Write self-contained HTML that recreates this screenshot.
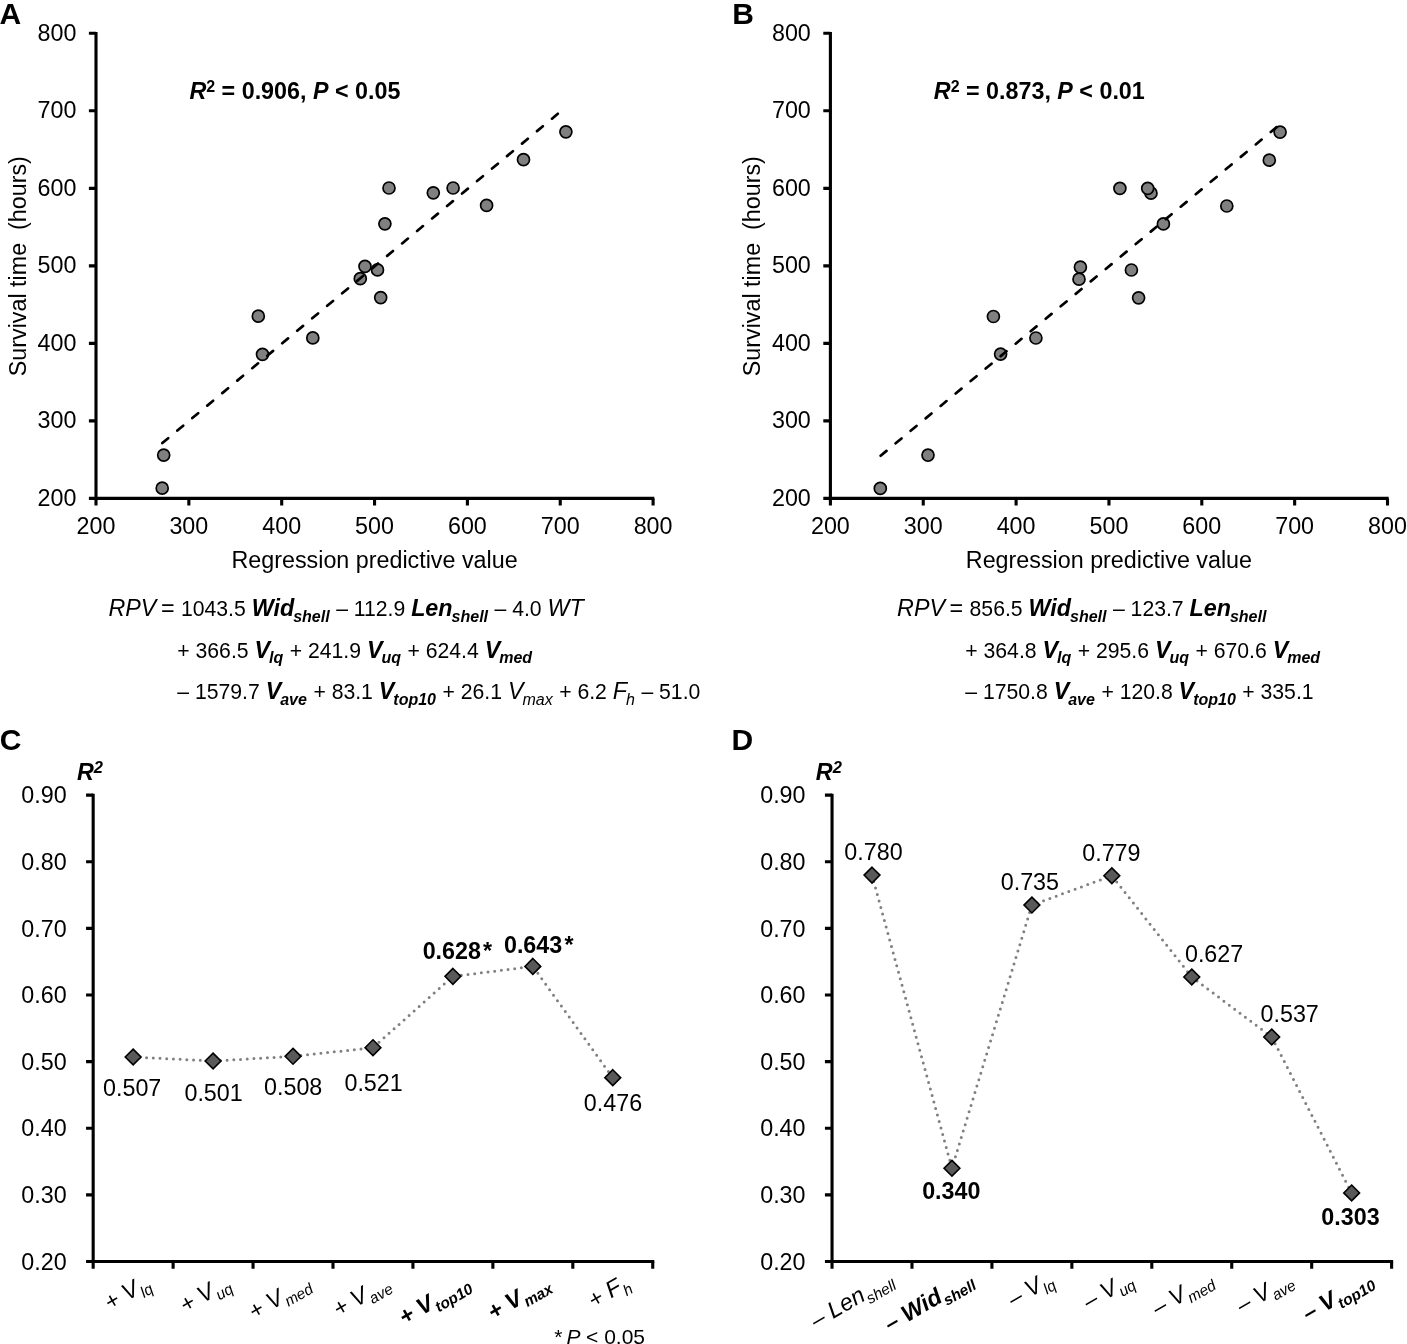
<!DOCTYPE html>
<html><head><meta charset="utf-8"><title>Figure</title>
<style>html,body{margin:0;padding:0;background:#fff;}body{width:1407px;height:1344px;overflow:hidden;}svg{display:block;}text{font-family:'Liberation Sans', Arial, sans-serif;}</style>
</head><body>
<svg width="1407" height="1344" viewBox="0 0 1407 1344" font-family="'Liberation Sans', Arial, sans-serif" font-size="23.3" fill="#000">
<path d="M96.00,32.10V498.40H654.30" fill="none" stroke="#000" stroke-width="3.1"/>
<path d="M88.90,498.40H96.00M96.00,498.40V505.60M88.90,420.88H96.00M188.85,498.40V505.60M88.90,343.37H96.00M281.70,498.40V505.60M88.90,265.85H96.00M374.55,498.40V505.60M88.90,188.33H96.00M467.40,498.40V505.60M88.90,110.82H96.00M560.25,498.40V505.60M88.90,33.30H96.00M653.10,498.40V505.60" stroke="#000" stroke-width="3.1"/>
<text x="76.40" y="505.90" text-anchor="end">200</text>
<text x="96.00" y="533.80" text-anchor="middle">200</text>
<text x="76.40" y="428.38" text-anchor="end">300</text>
<text x="188.85" y="533.80" text-anchor="middle">300</text>
<text x="76.40" y="350.87" text-anchor="end">400</text>
<text x="281.70" y="533.80" text-anchor="middle">400</text>
<text x="76.40" y="273.35" text-anchor="end">500</text>
<text x="374.55" y="533.80" text-anchor="middle">500</text>
<text x="76.40" y="195.83" text-anchor="end">600</text>
<text x="467.40" y="533.80" text-anchor="middle">600</text>
<text x="76.40" y="118.32" text-anchor="end">700</text>
<text x="560.25" y="533.80" text-anchor="middle">700</text>
<text x="76.40" y="40.80" text-anchor="end">800</text>
<text x="653.10" y="533.80" text-anchor="middle">800</text>
<circle cx="162.20" cy="488.20" r="6.0" fill="#808080" stroke="#000" stroke-width="1.7"/>
<circle cx="163.70" cy="455.10" r="6.0" fill="#808080" stroke="#000" stroke-width="1.7"/>
<circle cx="258.30" cy="316.20" r="6.0" fill="#808080" stroke="#000" stroke-width="1.7"/>
<circle cx="262.50" cy="354.30" r="6.0" fill="#808080" stroke="#000" stroke-width="1.7"/>
<circle cx="312.80" cy="337.90" r="6.0" fill="#808080" stroke="#000" stroke-width="1.7"/>
<circle cx="360.30" cy="278.70" r="6.0" fill="#808080" stroke="#000" stroke-width="1.7"/>
<circle cx="365.00" cy="266.40" r="6.0" fill="#808080" stroke="#000" stroke-width="1.7"/>
<circle cx="377.50" cy="269.90" r="6.0" fill="#808080" stroke="#000" stroke-width="1.7"/>
<circle cx="380.70" cy="297.60" r="6.0" fill="#808080" stroke="#000" stroke-width="1.7"/>
<circle cx="384.90" cy="223.80" r="6.0" fill="#808080" stroke="#000" stroke-width="1.7"/>
<circle cx="389.00" cy="188.00" r="6.0" fill="#808080" stroke="#000" stroke-width="1.7"/>
<circle cx="433.30" cy="192.80" r="6.0" fill="#808080" stroke="#000" stroke-width="1.7"/>
<circle cx="453.10" cy="188.00" r="6.0" fill="#808080" stroke="#000" stroke-width="1.7"/>
<circle cx="486.60" cy="205.40" r="6.0" fill="#808080" stroke="#000" stroke-width="1.7"/>
<circle cx="523.50" cy="159.70" r="6.0" fill="#808080" stroke="#000" stroke-width="1.7"/>
<circle cx="565.90" cy="131.80" r="6.0" fill="#808080" stroke="#000" stroke-width="1.7"/>
<line x1="161.30" y1="443.90" x2="559.40" y2="112.50" stroke="#000" stroke-width="2.7" stroke-linecap="round" stroke-dasharray="7.6 11.9" stroke-dashoffset="-1.35"/>
<text x="374.55" y="567.5" text-anchor="middle">Regression predictive value</text>
<text transform="translate(25.60,266.2) rotate(-90)" text-anchor="middle" xml:space="preserve">Survival time  (hours)</text>
<text x="189.40" y="98.60" font-weight="bold" xml:space="preserve"><tspan font-style="italic">R</tspan><tspan font-size="16" dy="-6.8">2</tspan><tspan dy="6.8"> = 0.906, </tspan><tspan font-style="italic">P</tspan> &lt; 0.05</text>
<path d="M830.40,32.10V498.40H1388.70" fill="none" stroke="#000" stroke-width="3.1"/>
<path d="M823.30,498.40H830.40M830.40,498.40V505.60M823.30,420.88H830.40M923.25,498.40V505.60M823.30,343.37H830.40M1016.10,498.40V505.60M823.30,265.85H830.40M1108.95,498.40V505.60M823.30,188.33H830.40M1201.80,498.40V505.60M823.30,110.82H830.40M1294.65,498.40V505.60M823.30,33.30H830.40M1387.50,498.40V505.60" stroke="#000" stroke-width="3.1"/>
<text x="810.80" y="505.90" text-anchor="end">200</text>
<text x="830.40" y="533.80" text-anchor="middle">200</text>
<text x="810.80" y="428.38" text-anchor="end">300</text>
<text x="923.25" y="533.80" text-anchor="middle">300</text>
<text x="810.80" y="350.87" text-anchor="end">400</text>
<text x="1016.10" y="533.80" text-anchor="middle">400</text>
<text x="810.80" y="273.35" text-anchor="end">500</text>
<text x="1108.95" y="533.80" text-anchor="middle">500</text>
<text x="810.80" y="195.83" text-anchor="end">600</text>
<text x="1201.80" y="533.80" text-anchor="middle">600</text>
<text x="810.80" y="118.32" text-anchor="end">700</text>
<text x="1294.65" y="533.80" text-anchor="middle">700</text>
<text x="810.80" y="40.80" text-anchor="end">800</text>
<text x="1387.50" y="533.80" text-anchor="middle">800</text>
<circle cx="880.30" cy="488.40" r="6.0" fill="#808080" stroke="#000" stroke-width="1.7"/>
<circle cx="928.00" cy="455.10" r="6.0" fill="#808080" stroke="#000" stroke-width="1.7"/>
<circle cx="993.40" cy="316.50" r="6.0" fill="#808080" stroke="#000" stroke-width="1.7"/>
<circle cx="1000.60" cy="354.10" r="6.0" fill="#808080" stroke="#000" stroke-width="1.7"/>
<circle cx="1035.90" cy="338.00" r="6.0" fill="#808080" stroke="#000" stroke-width="1.7"/>
<circle cx="1080.40" cy="267.10" r="6.0" fill="#808080" stroke="#000" stroke-width="1.7"/>
<circle cx="1079.00" cy="279.20" r="6.0" fill="#808080" stroke="#000" stroke-width="1.7"/>
<circle cx="1119.90" cy="188.30" r="6.0" fill="#808080" stroke="#000" stroke-width="1.7"/>
<circle cx="1131.40" cy="270.00" r="6.0" fill="#808080" stroke="#000" stroke-width="1.7"/>
<circle cx="1138.60" cy="297.80" r="6.0" fill="#808080" stroke="#000" stroke-width="1.7"/>
<circle cx="1151.00" cy="193.20" r="6.0" fill="#808080" stroke="#000" stroke-width="1.7"/>
<circle cx="1147.70" cy="188.30" r="6.0" fill="#808080" stroke="#000" stroke-width="1.7"/>
<circle cx="1163.40" cy="223.90" r="6.0" fill="#808080" stroke="#000" stroke-width="1.7"/>
<circle cx="1226.80" cy="206.00" r="6.0" fill="#808080" stroke="#000" stroke-width="1.7"/>
<circle cx="1269.30" cy="160.20" r="6.0" fill="#808080" stroke="#000" stroke-width="1.7"/>
<circle cx="1280.10" cy="132.10" r="6.0" fill="#808080" stroke="#000" stroke-width="1.7"/>
<line x1="879.60" y1="456.60" x2="1276.80" y2="127.00" stroke="#000" stroke-width="2.7" stroke-linecap="round" stroke-dasharray="7.6 11.9" stroke-dashoffset="-1.35"/>
<text x="1108.95" y="567.5" text-anchor="middle">Regression predictive value</text>
<text transform="translate(760.00,266.2) rotate(-90)" text-anchor="middle" xml:space="preserve">Survival time  (hours)</text>
<text x="933.80" y="98.60" font-weight="bold" xml:space="preserve"><tspan font-style="italic">R</tspan><tspan font-size="16" dy="-6.8">2</tspan><tspan dy="6.8"> = 0.873, </tspan><tspan font-style="italic">P</tspan> &lt; 0.01</text>
<text x="-0.6" y="24" font-weight="bold" font-size="30">A</text>
<text x="732.3" y="24" font-weight="bold" font-size="30">B</text>
<text x="-0.3" y="750.4" font-weight="bold" font-size="30">C</text>
<text x="731.5" y="750.4" font-weight="bold" font-size="30">D</text>
<text x="108.50" y="616.00" xml:space="preserve"><tspan font-style="italic">RPV</tspan><tspan dx="-2"> = </tspan><tspan font-size="21.2">1043.5 </tspan><tspan font-style="italic" font-weight="bold">Wid</tspan><tspan font-style="italic" font-weight="bold" font-size="16" dx="-1" dy="5.8">shell</tspan><tspan dy="-5.8"> </tspan><tspan font-size="21.2">– 112.9 </tspan><tspan font-style="italic" font-weight="bold">Len</tspan><tspan font-style="italic" font-weight="bold" font-size="16" dx="-1" dy="5.8">shell</tspan><tspan dy="-5.8"> </tspan><tspan font-size="21.2">– 4.0 </tspan><tspan font-style="italic">WT</tspan></text>
<text x="177.30" y="657.50" xml:space="preserve"><tspan font-size="21.2">+ 366.5 </tspan><tspan font-style="italic" font-weight="bold">V</tspan><tspan font-style="italic" font-weight="bold" font-size="16" dx="-1" dy="5.8">lq</tspan><tspan dy="-5.8"> </tspan><tspan font-size="21.2">+ 241.9 </tspan><tspan font-style="italic" font-weight="bold">V</tspan><tspan font-style="italic" font-weight="bold" font-size="16" dx="-1" dy="5.8">uq</tspan><tspan dy="-5.8"> </tspan><tspan font-size="21.2">+ 624.4 </tspan><tspan font-style="italic" font-weight="bold">V</tspan><tspan font-style="italic" font-weight="bold" font-size="16" dx="-1" dy="5.8">med</tspan><tspan dy="-5.8"> </tspan></text>
<text x="177.30" y="698.70" xml:space="preserve"><tspan font-size="21.2">– 1579.7 </tspan><tspan font-style="italic" font-weight="bold">V</tspan><tspan font-style="italic" font-weight="bold" font-size="16" dx="-1" dy="5.8">ave</tspan><tspan dy="-5.8"> </tspan><tspan font-size="21.2">+ 83.1 </tspan><tspan font-style="italic" font-weight="bold">V</tspan><tspan font-style="italic" font-weight="bold" font-size="16" dx="-1" dy="5.8">top10</tspan><tspan dy="-5.8"> </tspan><tspan font-size="21.2">+ 26.1 </tspan><tspan font-style="italic">V</tspan><tspan font-style="italic" font-size="16" dx="-1" dy="5.8">max</tspan><tspan dy="-5.8"> </tspan><tspan font-size="21.2">+ 6.2 </tspan><tspan font-style="italic">F</tspan><tspan font-style="italic" font-size="16" dx="-1" dy="5.8">h</tspan><tspan dy="-5.8"> </tspan><tspan font-size="21.2">– 51.0</tspan></text>
<text x="897.10" y="616.00" xml:space="preserve"><tspan font-style="italic">RPV</tspan><tspan dx="-2"> = </tspan><tspan font-size="21.2">856.5 </tspan><tspan font-style="italic" font-weight="bold">Wid</tspan><tspan font-style="italic" font-weight="bold" font-size="16" dx="-1" dy="5.8">shell</tspan><tspan dy="-5.8"> </tspan><tspan font-size="21.2">– 123.7 </tspan><tspan font-style="italic" font-weight="bold">Len</tspan><tspan font-style="italic" font-weight="bold" font-size="16" dx="-1" dy="5.8">shell</tspan><tspan dy="-5.8"> </tspan></text>
<text x="965.30" y="657.50" xml:space="preserve"><tspan font-size="21.2">+ 364.8 </tspan><tspan font-style="italic" font-weight="bold">V</tspan><tspan font-style="italic" font-weight="bold" font-size="16" dx="-1" dy="5.8">lq</tspan><tspan dy="-5.8"> </tspan><tspan font-size="21.2">+ 295.6 </tspan><tspan font-style="italic" font-weight="bold">V</tspan><tspan font-style="italic" font-weight="bold" font-size="16" dx="-1" dy="5.8">uq</tspan><tspan dy="-5.8"> </tspan><tspan font-size="21.2">+ 670.6 </tspan><tspan font-style="italic" font-weight="bold">V</tspan><tspan font-style="italic" font-weight="bold" font-size="16" dx="-1" dy="5.8">med</tspan><tspan dy="-5.8"> </tspan></text>
<text x="965.30" y="698.70" xml:space="preserve"><tspan font-size="21.2">– 1750.8 </tspan><tspan font-style="italic" font-weight="bold">V</tspan><tspan font-style="italic" font-weight="bold" font-size="16" dx="-1" dy="5.8">ave</tspan><tspan dy="-5.8"> </tspan><tspan font-size="21.2">+ 120.8 </tspan><tspan font-style="italic" font-weight="bold">V</tspan><tspan font-style="italic" font-weight="bold" font-size="16" dx="-1" dy="5.8">top10</tspan><tspan dy="-5.8"> </tspan><tspan font-size="21.2">+ 335.1</tspan></text>
<path d="M93.17,793.64V1261.55H654.25" fill="none" stroke="#000" stroke-width="3.1"/>
<path d="M86.07,1261.55H93.17M93.17,1261.55V1268.65M86.07,1194.92H93.17M173.11,1261.55V1268.65M86.07,1128.29H93.17M253.05,1261.55V1268.65M86.07,1061.66H93.17M332.99,1261.55V1268.65M86.07,995.03H93.17M412.93,1261.55V1268.65M86.07,928.40H93.17M492.87,1261.55V1268.65M86.07,861.77H93.17M572.81,1261.55V1268.65M86.07,795.14H93.17M652.75,1261.55V1268.65" stroke="#000" stroke-width="3.1"/>
<text x="66.67" y="1269.75" text-anchor="end">0.20</text>
<text x="66.67" y="1203.12" text-anchor="end">0.30</text>
<text x="66.67" y="1136.49" text-anchor="end">0.40</text>
<text x="66.67" y="1069.86" text-anchor="end">0.50</text>
<text x="66.67" y="1003.23" text-anchor="end">0.60</text>
<text x="66.67" y="936.60" text-anchor="end">0.70</text>
<text x="66.67" y="869.97" text-anchor="end">0.80</text>
<text x="66.67" y="803.34" text-anchor="end">0.90</text>
<polyline points="133.14,1057.00 213.08,1060.99 293.02,1056.33 372.96,1047.67 452.90,976.37 532.84,966.38 612.78,1077.65" fill="none" stroke="#808080" stroke-width="3" stroke-linecap="round" stroke-dasharray="0 6.72"/>
<path d="M133.14,1049.10L141.04,1057.00L133.14,1064.90L125.24,1057.00Z" fill="#595959" stroke="#000" stroke-width="1.6"/>
<path d="M213.08,1053.09L220.98,1060.99L213.08,1068.89L205.18,1060.99Z" fill="#595959" stroke="#000" stroke-width="1.6"/>
<path d="M293.02,1048.43L300.92,1056.33L293.02,1064.23L285.12,1056.33Z" fill="#595959" stroke="#000" stroke-width="1.6"/>
<path d="M372.96,1039.77L380.86,1047.67L372.96,1055.57L365.06,1047.67Z" fill="#595959" stroke="#000" stroke-width="1.6"/>
<path d="M452.90,968.47L460.80,976.37L452.90,984.27L445.00,976.37Z" fill="#595959" stroke="#000" stroke-width="1.6"/>
<path d="M532.84,958.48L540.74,966.38L532.84,974.28L524.94,966.38Z" fill="#595959" stroke="#000" stroke-width="1.6"/>
<path d="M612.78,1069.75L620.68,1077.65L612.78,1085.55L604.88,1077.65Z" fill="#595959" stroke="#000" stroke-width="1.6"/>
<text x="132.20" y="1096.30" text-anchor="middle">0.507</text>
<text x="213.60" y="1101.30" text-anchor="middle">0.501</text>
<text x="293.20" y="1094.90" text-anchor="middle">0.508</text>
<text x="373.60" y="1090.90" text-anchor="middle">0.521</text>
<text x="451.80" y="958.80" text-anchor="middle" font-weight="bold">0.628</text>
<text x="533.10" y="952.90" text-anchor="middle" font-weight="bold">0.643</text>
<text x="613.00" y="1110.90" text-anchor="middle">0.476</text>
<text x="76.97" y="779.6" font-weight="bold"><tspan font-style="italic">R</tspan><tspan font-size="16.5" dy="-7.0" font-style="italic">2</tspan></text>
<text transform="translate(151.64,1286.95) rotate(-30)" text-anchor="end" font-style="italic" font-size="23.3" xml:space="preserve">+<tspan> V<tspan font-size="15.4" dx="0.5" dy="5.7">lq</tspan></tspan></text>
<text transform="translate(231.58,1286.95) rotate(-30)" text-anchor="end" font-style="italic" font-size="23.3" xml:space="preserve">+<tspan> V<tspan font-size="15.4" dx="0.5" dy="5.7">uq</tspan></tspan></text>
<text transform="translate(311.52,1286.95) rotate(-30)" text-anchor="end" font-style="italic" font-size="23.3" xml:space="preserve">+<tspan> V<tspan font-size="15.4" dx="0.5" dy="5.7">med</tspan></tspan></text>
<text transform="translate(391.46,1286.95) rotate(-30)" text-anchor="end" font-style="italic" font-size="23.3" xml:space="preserve">+<tspan> V<tspan font-size="15.4" dx="0.5" dy="5.7">ave</tspan></tspan></text>
<text transform="translate(471.40,1286.95) rotate(-30)" text-anchor="end" font-style="italic" font-size="23.3" font-weight="bold" xml:space="preserve">+<tspan> V<tspan font-size="15.4" dx="0.5" dy="5.7">top10</tspan></tspan></text>
<text transform="translate(551.34,1286.95) rotate(-30)" text-anchor="end" font-style="italic" font-size="23.3" font-weight="bold" xml:space="preserve">+<tspan> V<tspan font-size="15.4" dx="0.5" dy="5.7">max</tspan></tspan></text>
<text transform="translate(631.28,1286.95) rotate(-30)" text-anchor="end" font-style="italic" font-size="23.3" xml:space="preserve">+<tspan> F<tspan font-size="15.4" dx="0.5" dy="5.7">h</tspan></tspan></text>
<text x="483" y="958.8" font-weight="bold">*</text><text x="564.4" y="952.9" font-weight="bold">*</text>
<text x="554.3" y="1343.6" font-size="21" xml:space="preserve">* <tspan font-style="italic" dx="-1.7">P</tspan><tspan dx="-0.4"> &lt; 0.05</tspan></text>
<path d="M832.04,793.64V1261.55H1393.12" fill="none" stroke="#000" stroke-width="3.1"/>
<path d="M824.94,1261.55H832.04M832.04,1261.55V1268.65M824.94,1194.92H832.04M911.98,1261.55V1268.65M824.94,1128.29H832.04M991.92,1261.55V1268.65M824.94,1061.66H832.04M1071.86,1261.55V1268.65M824.94,995.03H832.04M1151.80,1261.55V1268.65M824.94,928.40H832.04M1231.74,1261.55V1268.65M824.94,861.77H832.04M1311.68,1261.55V1268.65M824.94,795.14H832.04M1391.62,1261.55V1268.65" stroke="#000" stroke-width="3.1"/>
<text x="805.54" y="1269.75" text-anchor="end">0.20</text>
<text x="805.54" y="1203.12" text-anchor="end">0.30</text>
<text x="805.54" y="1136.49" text-anchor="end">0.40</text>
<text x="805.54" y="1069.86" text-anchor="end">0.50</text>
<text x="805.54" y="1003.23" text-anchor="end">0.60</text>
<text x="805.54" y="936.60" text-anchor="end">0.70</text>
<text x="805.54" y="869.97" text-anchor="end">0.80</text>
<text x="805.54" y="803.34" text-anchor="end">0.90</text>
<polyline points="872.01,875.10 951.95,1168.27 1031.89,905.08 1111.83,875.76 1191.77,977.04 1271.71,1037.01 1351.65,1192.92" fill="none" stroke="#808080" stroke-width="3" stroke-linecap="round" stroke-dasharray="0 6.72"/>
<path d="M872.01,867.20L879.91,875.10L872.01,883.00L864.11,875.10Z" fill="#595959" stroke="#000" stroke-width="1.6"/>
<path d="M951.95,1160.37L959.85,1168.27L951.95,1176.17L944.05,1168.27Z" fill="#595959" stroke="#000" stroke-width="1.6"/>
<path d="M1031.89,897.18L1039.79,905.08L1031.89,912.98L1023.99,905.08Z" fill="#595959" stroke="#000" stroke-width="1.6"/>
<path d="M1111.83,867.86L1119.73,875.76L1111.83,883.66L1103.93,875.76Z" fill="#595959" stroke="#000" stroke-width="1.6"/>
<path d="M1191.77,969.14L1199.67,977.04L1191.77,984.94L1183.87,977.04Z" fill="#595959" stroke="#000" stroke-width="1.6"/>
<path d="M1271.71,1029.11L1279.61,1037.01L1271.71,1044.91L1263.81,1037.01Z" fill="#595959" stroke="#000" stroke-width="1.6"/>
<path d="M1351.65,1185.02L1359.55,1192.92L1351.65,1200.82L1343.75,1192.92Z" fill="#595959" stroke="#000" stroke-width="1.6"/>
<text x="873.50" y="860.10" text-anchor="middle">0.780</text>
<text x="951.30" y="1199.40" text-anchor="middle" font-weight="bold">0.340</text>
<text x="1029.90" y="889.70" text-anchor="middle">0.735</text>
<text x="1111.40" y="861.30" text-anchor="middle">0.779</text>
<text x="1214.10" y="962.00" text-anchor="middle">0.627</text>
<text x="1289.70" y="1021.80" text-anchor="middle">0.537</text>
<text x="1350.50" y="1225.20" text-anchor="middle" font-weight="bold">0.303</text>
<text x="815.84" y="779.6" font-weight="bold"><tspan font-style="italic">R</tspan><tspan font-size="16.5" dy="-7.0" font-style="italic">2</tspan></text>
<text transform="translate(894.61,1283.45) rotate(-30)" text-anchor="end" font-style="italic" font-size="23.3" xml:space="preserve">–<tspan> Len<tspan font-size="15.4" dx="0.5" dy="5.7">shell</tspan></tspan></text>
<text transform="translate(974.55,1283.45) rotate(-30)" text-anchor="end" font-style="italic" font-size="23.3" font-weight="bold" xml:space="preserve">–<tspan> Wid<tspan font-size="15.4" dx="0.5" dy="5.7">shell</tspan></tspan></text>
<text transform="translate(1054.49,1283.45) rotate(-30)" text-anchor="end" font-style="italic" font-size="23.3" xml:space="preserve">–<tspan> V<tspan font-size="15.4" dx="0.5" dy="5.7">lq</tspan></tspan></text>
<text transform="translate(1134.43,1283.45) rotate(-30)" text-anchor="end" font-style="italic" font-size="23.3" xml:space="preserve">–<tspan> V<tspan font-size="15.4" dx="0.5" dy="5.7">uq</tspan></tspan></text>
<text transform="translate(1214.37,1283.45) rotate(-30)" text-anchor="end" font-style="italic" font-size="23.3" xml:space="preserve">–<tspan> V<tspan font-size="15.4" dx="0.5" dy="5.7">med</tspan></tspan></text>
<text transform="translate(1294.31,1283.45) rotate(-30)" text-anchor="end" font-style="italic" font-size="23.3" xml:space="preserve">–<tspan> V<tspan font-size="15.4" dx="0.5" dy="5.7">ave</tspan></tspan></text>
<text transform="translate(1374.25,1283.45) rotate(-30)" text-anchor="end" font-style="italic" font-size="23.3" font-weight="bold" xml:space="preserve">–<tspan> V<tspan font-size="15.4" dx="0.5" dy="5.7">top10</tspan></tspan></text>
</svg>
</body></html>
